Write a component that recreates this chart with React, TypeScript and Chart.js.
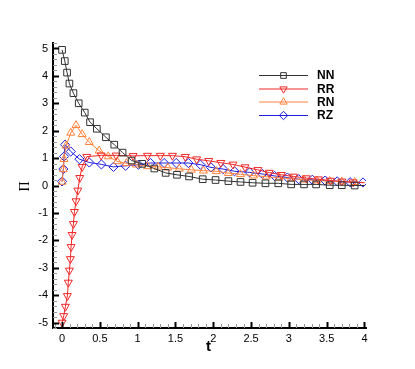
import React, { useEffect, useRef } from "react";
import { Chart, registerables } from "chart.js";

Chart.register(...registerables);

// ---- data (t, Pi) read at marker positions; last entries are line ends ----
const tNN = [0, 0.036, 0.066, 0.097, 0.15, 0.22, 0.30, 0.37, 0.46, 0.58, 0.69, 0.80, 0.92, 1.06, 1.22, 1.37, 1.52, 1.68, 1.86, 2.03, 2.20, 2.36, 2.52, 2.69, 2.86, 3.03, 3.20, 3.36, 3.54, 3.70, 3.87, 4.0];
const piNN = [4.95, 4.54, 4.12, 3.72, 3.37, 3.0, 2.66, 2.31, 2.07, 1.76, 1.49, 1.20, 0.91, 0.79, 0.62, 0.46, 0.39, 0.33, 0.23, 0.20, 0.16, 0.13, 0.10, 0.08, 0.08, 0.04, 0.04, 0.04, 0.01, 0.01, 0.0, 0.0];

const tRR = [0, 0.022, 0.044, 0.07, 0.083, 0.097, 0.11, 0.119, 0.132, 0.15, 0.163, 0.185, 0.208, 0.234, 0.265, 0.327, 0.517, 0.715, 0.94, 1.13, 1.30, 1.46, 1.63, 1.78, 1.94, 2.10, 2.26, 2.42, 2.59, 2.74, 2.90, 3.06, 3.23, 3.39, 3.55, 3.70, 3.85, 4.0];
const piRR = [-5.0, -4.76, -4.42, -4.03, -3.54, -3.10, -2.68, -2.24, -1.80, -1.40, -0.96, -0.57, -0.18, 0.28, 0.68, 1.05, 1.10, 1.10, 1.08, 1.09, 1.09, 1.09, 1.05, 0.96, 0.90, 0.83, 0.77, 0.67, 0.57, 0.47, 0.39, 0.33, 0.27, 0.23, 0.18, 0.15, 0.12, 0.10];

const tRN = [0, 0.017, 0.026, 0.053, 0.115, 0.185, 0.265, 0.36, 0.49, 0.61, 0.73, 0.85, 0.98, 1.13, 1.27, 1.40, 1.55, 1.71, 1.87, 2.04, 2.20, 2.36, 2.53, 2.70, 2.87, 3.03, 3.20, 3.37, 3.54, 3.70, 3.87, 4.0];
const piRN = [0.13, 0.59, 0.96, 1.45, 1.92, 2.20, 1.87, 1.58, 1.27, 1.06, 0.88, 0.81, 0.76, 0.70, 0.68, 0.65, 0.61, 0.57, 0.54, 0.52, 0.45, 0.41, 0.36, 0.32, 0.28, 0.25, 0.21, 0.18, 0.16, 0.14, 0.12, 0.11];

const tRZ = [0, 0.017, 0.026, 0.04, 0.115, 0.23, 0.36, 0.52, 0.68, 0.84, 1.01, 1.17, 1.35, 1.51, 1.67, 1.83, 1.97, 2.13, 2.28, 2.48, 2.65, 2.81, 2.98, 3.13, 3.31, 3.48, 3.64, 3.81, 3.98];
const piRZ = [0.15, 0.60, 1.06, 1.49, 1.24, 0.96, 0.84, 0.77, 0.68, 0.72, 0.76, 0.82, 0.82, 0.82, 0.82, 0.76, 0.66, 0.60, 0.52, 0.48, 0.42, 0.35, 0.29, 0.23, 0.21, 0.18, 0.15, 0.12, 0.11];

const seriesNames = ["NN", "RR", "RN", "RZ"];
const xTitle = "t";
const yTitle = "Π";

const COLORS = ["rgb(50,50,50)", "rgb(240,40,40)", "rgb(255,130,60)", "rgb(30,30,220)"];
const STYLES = ["rect", "triangle", "triangle", "rectRot"];
const ROTS = [0, 180, 0, 0];
const RADII = [4.7, 4.6, 4.6, 4.6];

function pts(t: number[], v: number[]) {
  return t.map((x, i) => ({ x, y: v[i] }));
}

function drawMarker(ctx: CanvasRenderingContext2D, style: string, rot: number, x: number, y: number, r: number) {
  ctx.beginPath();
  if (style === "rect") {
    const s = Math.SQRT1_2 * r;
    ctx.rect(x - s, y - s, 2 * s, 2 * s);
  } else if (style === "rectRot") {
    ctx.moveTo(x - r, y);
    ctx.lineTo(x, y - r);
    ctx.lineTo(x + r, y);
    ctx.lineTo(x, y + r);
    ctx.closePath();
  } else {
    const a = (rot * Math.PI) / 180;
    for (let k = 0; k < 3; k++) {
      const ang = a - Math.PI / 2 + (k * 2 * Math.PI) / 3;
      const px = x + Math.cos(ang) * r;
      const py = y + Math.sin(ang) * r * 1.0;
      if (k === 0) ctx.moveTo(px, py);
      else ctx.lineTo(px, py);
    }
    ctx.closePath();
  }
  ctx.stroke();
}

const decorPlugin = {
  id: "decor",
  afterDraw(chart: any) {
    const ctx: CanvasRenderingContext2D = chart.ctx;
    const xs = chart.scales.x;
    const ys = chart.scales.y;
    const area = chart.chartArea;
    ctx.save();
    // minor + major ticks pointing inward
    const drawXTicks = () => {
      const start = Math.ceil(xs.min / 0.1 - 1e-9);
      const end = Math.floor(xs.max / 0.1 + 1e-9);
      for (let k = start; k <= end; k++) {
        const v = k * 0.1;
        const major = Math.abs(v / 0.5 - Math.round(v / 0.5)) < 1e-6;
        const px = Math.round(xs.getPixelForValue(v)) + 0.5;
        ctx.beginPath();
        ctx.strokeStyle = major ? "#000" : "#999";
        ctx.lineWidth = major ? 2 : 1;
        ctx.moveTo(px, area.bottom);
        ctx.lineTo(px, area.bottom - (major ? 6 : 4));
        ctx.stroke();
      }
    };
    const drawYTicks = () => {
      const start = Math.ceil(ys.min / 0.2 - 1e-9);
      const end = Math.floor(ys.max / 0.2 + 1e-9);
      for (let k = start; k <= end; k++) {
        const v = k * 0.2;
        const major = Math.abs(v - Math.round(v)) < 1e-6;
        const py = Math.round(ys.getPixelForValue(v)) + 0.5;
        ctx.beginPath();
        ctx.strokeStyle = major ? "#000" : "#999";
        ctx.lineWidth = major ? 2 : 1;
        ctx.moveTo(area.left, py);
        ctx.lineTo(area.left + (major ? 6 : 4), py);
        ctx.stroke();
      }
    };
    drawXTicks();
    drawYTicks();

    // axis titles
    ctx.fillStyle = "#000";
    ctx.font = "bold 15px 'Liberation Sans', Arial, sans-serif";
    ctx.textAlign = "center";
    ctx.textBaseline = "middle";
    ctx.fillText(xTitle, (area.left + area.right) / 2 - 1, 347);
    ctx.save();
    ctx.translate(25, (area.top + area.bottom) / 2 + 1);
    ctx.rotate(-Math.PI / 2);
    ctx.font = "14px 'Liberation Serif', 'Times New Roman', serif";
    ctx.fillText(yTitle, 0, 0);
    ctx.restore();

    // legend
    const lx0 = 259, lx1 = 308, lmx = 283.5;
    const ly = [75, 88.5, 101.5, 115];
    for (let i = 0; i < 4; i++) {
      ctx.strokeStyle = COLORS[i];
      ctx.lineWidth = 1;
      ctx.beginPath();
      ctx.moveTo(lx0, ly[i] + 0.5);
      ctx.lineTo(lx1, ly[i] + 0.5);
      ctx.stroke();
      drawMarker(ctx, STYLES[i], ROTS[i], lmx, ly[i] + 0.5, i === 0 ? 4 : 4.2);
      ctx.fillStyle = "#000";
      ctx.font = "bold 12px 'Liberation Sans', Arial, sans-serif";
      ctx.textAlign = "left";
      ctx.textBaseline = "middle";
      ctx.fillText(seriesNames[i], 317, ly[i] + 1);
    }
    ctx.restore();
  },
};

export default function App() {
  const ref = useRef<HTMLCanvasElement | null>(null);
  useEffect(() => {
    if (!ref.current) return;
    const all = [pts(tNN, piNN), pts(tRR, piRR), pts(tRN, piRN), pts(tRZ, piRZ)];
    const datasets = all.map((d, i) => ({
      label: seriesNames[i],
      data: d,
      borderColor: COLORS[i],
      backgroundColor: "rgba(0,0,0,0)",
      borderWidth: 1,
      pointStyle: STYLES[i],
      rotation: ROTS[i],
      pointBorderColor: COLORS[i],
      pointBackgroundColor: "rgba(0,0,0,0)",
      pointBorderWidth: 1,
      pointRadius: (c: any) => (i !== 3 && c.dataIndex === d.length - 1 ? 0 : RADII[i]),
      tension: 0,
      fill: false,
    }));
    const chart = new Chart(ref.current, {
      type: "line",
      data: { datasets },
      options: {
        responsive: false,
        animation: false,
        events: [],
        layout: { padding: { left: 0, top: 43, right: 49, bottom: 0 } },
        plugins: { legend: { display: false }, tooltip: { enabled: false } },
        scales: {
          x: {
            type: "linear",
            min: -0.12,
            max: 4.02,
            grid: { display: false, drawTicks: false },
            border: { display: true, color: "#000", width: 2 },
            ticks: {
              stepSize: 0.5,
              includeBounds: false,
              padding: 4,
              color: "#000",
              font: { family: "'Liberation Sans', Arial, sans-serif", size: 11 },
              callback: (v: any) => String(Math.round(Number(v) * 10) / 10),
            },
            afterFit: (s: any) => {
              s.height = 41;
            },
          },
          y: {
            type: "linear",
            min: -5.2,
            max: 5.2,
            grid: { display: false, drawTicks: false },
            border: { display: true, color: "#000", width: 2 },
            ticks: {
              stepSize: 1,
              includeBounds: false,
              padding: 5,
              color: "#000",
              font: { family: "'Liberation Sans', Arial, sans-serif", size: 11 },
              callback: (v: any) => String(Math.round(Number(v))),
            },
            afterFit: (s: any) => {
              s.width = 53;
            },
          },
        },
      },
      plugins: [decorPlugin],
    } as any);
    return () => chart.destroy();
  }, []);
  return (
    <div style={{ position: "fixed", left: 0, top: 0, width: 415, height: 369, background: "#fff" }}>
      <canvas ref={ref} width={415} height={369} style={{ width: 415, height: 369 }} />
    </div>
  );
}
